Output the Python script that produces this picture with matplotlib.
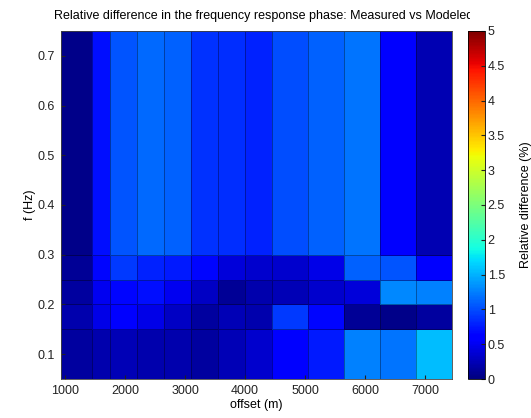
import numpy as np
import matplotlib
matplotlib.use("Agg")
import matplotlib.pyplot as plt
from matplotlib.transforms import Bbox, TransformedBbox

plt.rcParams['font.family'] = ['Liberation Sans', 'DejaVu Sans']

# cell edges
offset_edges = [930, 1450, 1750, 2200, 2650, 3100, 3550, 4000, 4450, 5050, 5650, 6250, 6850, 7440]
freq_edges = [0.05, 0.15, 0.20, 0.25, 0.30, 0.75]

# relative difference (%), rows from low to high frequency
row_005_015 = [0.15, 0.20, 0.25, 0.20, 0.20, 0.15, 0.25, 0.35, 0.55, 0.75, 1.25, 1.20, 1.55]
row_015_020 = [0.20, 0.45, 0.55, 0.45, 0.30, 0.15, 0.25, 0.20, 0.90, 0.65, 0.10, 0.05, 0.15]
row_020_025 = [0.15, 0.50, 0.65, 0.70, 0.50, 0.30, 0.10, 0.20, 0.25, 0.35, 0.40, 1.30, 1.25]
row_025_030 = [0.10, 0.65, 0.90, 0.80, 0.75, 0.65, 0.40, 0.35, 0.35, 0.45, 1.10, 1.05, 0.55]
row_030_075 = [0.05, 0.70, 1.05, 1.15, 1.10, 0.87, 0.85, 0.80, 1.00, 1.10, 1.20, 0.58, 0.22]

rel_diff = np.array([row_005_015, row_015_020, row_020_025, row_025_030, row_030_075])

fig = plt.figure(figsize=(5.31, 4.18), dpi=100)
ax = fig.add_axes([0.1143, 0.0933, 0.7367, 0.8327])
cax = fig.add_axes([0.881, 0.0933, 0.032, 0.8327])

mesh = ax.pcolormesh(offset_edges, freq_edges, rel_diff, cmap='jet', vmin=0, vmax=5,
                     edgecolors=(0, 0, 0, 0.35), linewidth=0.4)
ax.set_xlim(offset_edges[0], offset_edges[-1])
ax.set_ylim(freq_edges[0], freq_edges[-1])
ax.set_xticks([1000, 2000, 3000, 4000, 5000, 6000, 7000])
ax.set_yticks([0.1, 0.2, 0.3, 0.4, 0.5, 0.6, 0.7])
ax.tick_params(direction='in', length=3, labelsize=9, colors='#222222', pad=4)
for s in ax.spines.values():
    s.set_color('#444444')
    s.set_linewidth(0.6)
ax.set_xlabel('offset (m)', fontsize=9, labelpad=2)
ax.set_ylabel('f (Hz)', fontsize=9, labelpad=1)

cb = fig.colorbar(mesh, cax=cax)
cb.set_ticks([0, 0.5, 1, 1.5, 2, 2.5, 3, 3.5, 4, 4.5, 5])
cb.ax.set_yticklabels(['0', '0.5', '1', '1.5', '2', '2.5', '3', '3.5', '4', '4.5', '5'])
cb.ax.tick_params(direction='in', length=3, labelsize=9, colors='#222222', pad=2)
cb.outline.set_linewidth(0.6)
cb.set_label('Relative difference (%)', fontsize=9, labelpad=11)

title = fig.text(0.496, 0.962, 'Relative difference in the frequency response phase: Measured vs Modeled',
                 ha='center', va='center', fontsize=9)
title.set_clip_box(TransformedBbox(Bbox([[0, 0], [0.885, 1]]), fig.transFigure))
title.set_clip_on(True)

fig.savefig('out.png', dpi=100)
